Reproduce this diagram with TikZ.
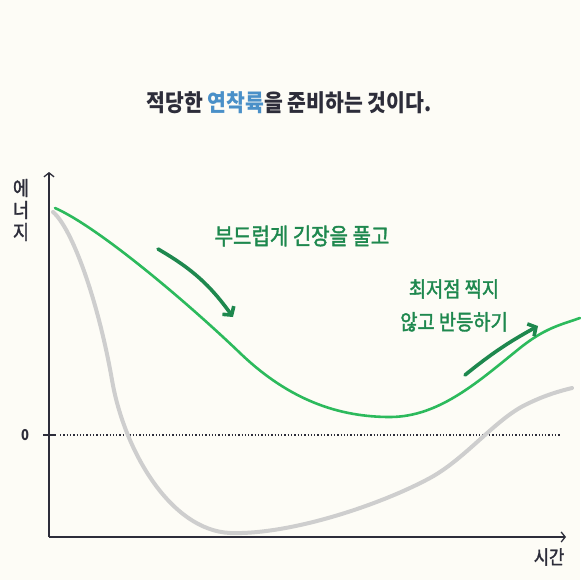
\documentclass[tikz,border=0pt]{standalone}
\usepackage{fontspec}
\newfontfamily\krfont[FakeStretch=0.87]{Noto Sans CJK KR}
\newfontfamily\krhand[FakeStretch=0.87, FakeBold=1.6]{Noto Sans CJK KR}
\usepackage{tikz}
\usetikzlibrary{arrows.meta, positioning}
\definecolor{paper}{RGB}{253,252,246}
\definecolor{ink}{RGB}{45,45,58}
\definecolor{sky}{RGB}{74,144,200}
\definecolor{leaf}{RGB}{44,186,92}
\definecolor{pine}{RGB}{30,136,78}
\definecolor{ash}{RGB}{206,206,206}

\begin{document}
\begin{tikzpicture}[
    x=1pt, y=-1pt,
    font=\krfont,
    title/.style={font=\krfont\bfseries\fontsize{23.5}{27}\selectfont, text=ink, inner sep=0pt},
    note/.style={font=\krhand\fontsize{21.5}{25}\selectfont, text=pine, inner sep=0pt},
    axislabel/.style={font=\krhand\fontsize{19}{22}\selectfont, text=ink, inner sep=0pt},
    axis/.style={line width=1.3pt, draw=ink, -{Straight Barb[length=4pt, width=10pt]}},
    zeroline/.style={line width=1.3pt, draw=ink, dotted},
    energy/.style={line width=2.6pt, draw=leaf, line cap=round, line join=round},
    crash/.style={line width=4pt, draw=ash, line cap=round, line join=round},
    hint/.style={line width=3.6pt, draw=pine, line cap=round, -{Straight Barb[length=6pt, width=14pt]}}
]

% ===== CANVAS =====
\fill[paper] (0,0) rectangle (580,580);
\useasboundingbox (0,0) rectangle (580,580);

% ===== TITLE =====
\node[title] (head) at (289,103) {적당한 \textcolor{sky}{연착륙}을 준비하는 것이다.};

% ===== AXES =====
\coordinate (origin) at (49,537);
\coordinate (ytop) at (49,172);
\coordinate (xend) at (566,537);
\draw[axis] (origin) -- (ytop);
\draw[axis] (origin) -- (xend);

% Axis labels
\node[axislabel, align=center, font=\krhand\fontsize{20}{22}\selectfont] (ylabel) at (21,210) {에\\너\\지};
\node[axislabel] (xlabel) at (549,557) {시간};

% Zero level
\coordinate (zleft) at (60,435);
\coordinate (zright) at (560,435);
\node[font=\krfont\bfseries\fontsize{15}{15}\selectfont, text=ink, inner sep=0pt] (zero) at (25,435) {0};
\draw[line width=1.3pt, ink] (43,435) -- (56,435);
\draw[zeroline] (zleft) -- (zright);

% ===== CURVES =====
% Soft landing (green)
\draw[energy] (55,208) .. controls (100,228) and (190,305) .. (240,353)
    .. controls (290,401) and (340,417) .. (390,417)
    .. controls (440,417) and (480,380) .. (520,348)
    .. controls (545,328) and (560,325) .. (580,318);

% Hard drop (grey)
\draw[crash] (53,212) .. controls (72,228) and (98,300) .. (112,380)
    .. controls (124,450) and (170,530) .. (230,533)
    .. controls (290,535) and (380,505) .. (430,478)
    .. controls (465,459) and (495,420) .. (525,405)
    .. controls (545,395) and (560,391) .. (572,388);

% ===== NOTES =====
\node[note, font=\krhand\fontsize{23}{26}\selectfont] (relax) at (302,236) {부드럽게 긴장을 풀고};
\node[note] (lowest) at (454,289) {최저점 찍지};
\node[note, below=13pt of lowest] (rebound) {않고 반등하기};

% Hint arrows
\coordinate (d1) at (158,249);
\coordinate (d2) at (233,317);
\coordinate (u1) at (465,375);
\coordinate (u2) at (538,326);
\draw[hint] (d1) to[bend left=12] (d2);
\draw[hint] (u1) to[bend left=5] (u2);

\end{tikzpicture}
\end{document}
